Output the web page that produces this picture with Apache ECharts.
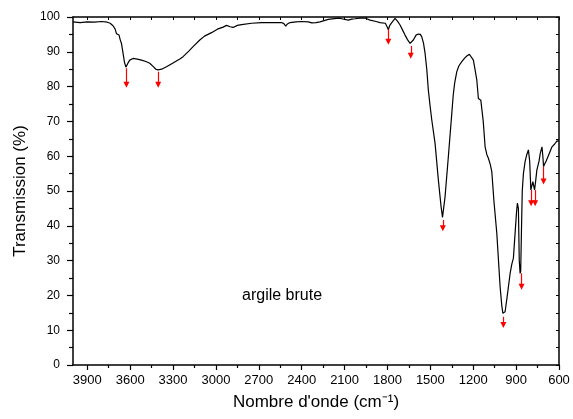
<!DOCTYPE html>
<html>
<head>
<meta charset="utf-8">
<script src="https://cdn.jsdelivr.net/npm/echarts/dist/echarts.min.js"></script>
<style>
    html, body { margin: 0; padding: 0; background: #fff; }
    #main { width: 573px; height: 419px; }
</style>
</head>
<body>
<div id="main"></div>
<script>
// spectre IR (nombre d'onde, transmission %)
var waveNumbers = [4000, 3950, 3900, 3850, 3800, 3760, 3740, 3720, 3705, 3696, 3688, 3678, 3670, 3661, 3650, 3640, 3630, 3625, 3615, 3603,
    3590, 3580, 3550, 3521, 3490, 3463, 3440, 3420, 3405, 3380, 3346, 3300, 3250, 3230, 3190, 3160, 3113, 3080, 3031, 2990,
    2950, 2926, 2900, 2880, 2850, 2821, 2750, 2681, 2600, 2541, 2525, 2512, 2500, 2482, 2440, 2401, 2354, 2330, 2319, 2300,
    2272, 2214, 2144, 2120, 2109, 2074, 2050, 2027, 1990, 1957, 1922, 1880, 1852, 1815, 1800, 1794, 1785, 1770, 1747, 1730,
    1712, 1695, 1677, 1660, 1642, 1630, 1619, 1600, 1584, 1570, 1560, 1548, 1537, 1525, 1514, 1502, 1490, 1467, 1444, 1425,
    1415, 1410, 1397, 1374, 1350, 1340, 1330, 1315, 1300, 1280, 1260, 1245, 1227, 1215, 1199, 1187, 1175, 1164, 1155, 1147,
    1130, 1117, 1105, 1094, 1080, 1070, 1055, 1035, 1012, 1000, 993, 985, 977, 960, 942, 930, 919, 907, 897, 891,
    884, 878, 872, 868, 862, 857, 849, 837, 825, 814, 805, 797, 790, 783, 771, 763, 755, 740, 731, 719,
    713, 708, 700, 692, 673, 649, 630, 614, 605, 600];
var transmission = [98.6, 98.4, 98.6, 98.5, 98.7, 98.5, 98.2, 97.5, 96.5, 95.2, 95.0, 94.8, 93.5, 92.4, 89.6, 87.0, 85.6, 85.5, 86.8, 87.6,
    88.0, 88.1, 87.9, 87.6, 87.2, 86.7, 85.8, 85.0, 84.8, 85.0, 85.7, 86.8, 88.0, 88.6, 90.2, 91.5, 93.4, 94.5, 95.5, 96.5,
    97.1, 97.6, 97.2, 97.0, 97.6, 97.8, 98.2, 98.4, 98.4, 98.4, 98.1, 97.4, 98.0, 98.4, 98.6, 98.7, 98.6, 98.3, 98.2, 98.4,
    98.6, 99.3, 99.7, 99.5, 99.3, 99.1, 99.4, 99.5, 99.7, 99.7, 99.1, 98.7, 98.4, 98.2, 97.0, 96.3, 97.5, 98.4, 99.6, 98.8,
    97.7, 96.3, 94.8, 93.5, 92.4, 92.8, 93.4, 94.8, 95.1, 95.0, 94.3, 92.5, 89.6, 85.0, 79.0, 74.5, 70.4, 63.7, 53.2, 45.5,
    42.4, 42.8, 48.4, 59.9, 72.3, 77.5, 81.0, 84.3, 86.0, 87.2, 88.2, 88.8, 89.3, 88.8, 87.6, 84.8, 81.9, 76.6, 76.3, 76.1,
    70.0, 62.7, 60.5, 59.4, 57.5, 55.5, 47.0, 37.8, 22.5, 17.0, 14.9, 14.5, 15.3, 20.5, 26.3, 29.0, 30.7, 31.1, 44.0, 46.5,
    45.0, 30.0, 26.3, 27.0, 40.0, 50.0, 55.0, 58.5, 60.5, 61.8, 58.5, 50.3, 51.5, 52.7, 50.3, 53.0, 56.0, 58.5, 60.8, 62.7,
    60.0, 57.0, 57.8, 58.4, 60.3, 62.7, 63.5, 64.4, 64.6, 64.3];

// flèches rouges (position, début, pointe)
var arrowX = [3626, 3404, 1794, 1637, 1413, 989, 862, 795, 767, 708];
var arrowTop = [85.3, 84.3, 96.5, 91.7, 41.7, 13.9, 26.4, 50.3, 50.3, 57.0];
var arrowTip = [80.5, 80.5, 92.9, 88.9, 39.3, 11.5, 22.5, 46.5, 46.5, 52.7];

var xMajorTicks = [3900, 3600, 3300, 3000, 2700, 2400, 2100, 1800, 1500, 1200, 900, 600];
var xMinorTicks = [3750, 3450, 3150, 2850, 2550, 2250, 1950, 1650, 1350, 1050, 750];
var xTopTicks = xMajorTicks.concat(xMinorTicks);

var chart = echarts.init(document.getElementById('main'));

var spectrum = waveNumbers.map(function (w, i) {
    return [w, transmission[i]];
});
var arrows = arrowX.map(function (x, i) {
    return { coords: [[x, arrowTop[i]], [x, arrowTip[i]]] };
});

var font = 'Liberation Sans';
var axisColor = '#000';

chart.setOption({
    animation: false,
    backgroundColor: '#fff',
    grid: { left: 73, right: 14, top: 17, bottom: 54 },
    xAxis: [{
        type: 'value',
        min: 600,
        max: 4000,
        inverse: true,
        position: 'bottom',
        name: 'Nombre d\'onde (cm⁻¹)',
        nameLocation: 'middle',
        nameGap: 29,
        nameTextStyle: { fontFamily: font, fontSize: 17, color: '#000' },
        axisLine: { lineStyle: { color: axisColor, width: 1.5 } },
        axisTick: { customValues: xMajorTicks, length: 5, lineStyle: { color: axisColor, width: 1.2 } },
        axisLabel: {
            customValues: xMajorTicks, margin: 9, fontFamily: font, fontSize: 13, color: '#000',
            formatter: function (v) { return String(v); }
        },
        splitLine: { show: false }
    }, {
        type: 'value',
        min: 600,
        max: 4000,
        inverse: true,
        position: 'bottom',
        axisLine: { show: false },
        axisTick: { customValues: xMinorTicks, length: 3, lineStyle: { color: axisColor, width: 1.2 } },
        axisLabel: { show: false },
        splitLine: { show: false }
    }, {
        type: 'value',
        min: 600,
        max: 4000,
        inverse: true,
        position: 'top',
        axisLine: { lineStyle: { color: axisColor, width: 1.5 } },
        axisTick: { customValues: xTopTicks, inside: true, length: 3, lineStyle: { color: axisColor, width: 1 } },
        axisLabel: { show: false },
        splitLine: { show: false }
    }],
    yAxis: [{
        type: 'value',
        min: 0,
        max: 100,
        interval: 10,
        position: 'left',
        name: 'Transmission (%)',
        nameLocation: 'middle',
        nameGap: 44,
        nameTextStyle: { fontFamily: font, fontSize: 17, color: '#000' },
        axisLine: { lineStyle: { color: axisColor, width: 1.5 } },
        axisTick: { length: 6, lineStyle: { color: axisColor, width: 1.2 } },
        minorTick: { show: true, splitNumber: 2, length: 4, lineStyle: { color: axisColor, width: 1.2 } },
        axisLabel: { margin: 13, fontFamily: font, fontSize: 12, color: '#000' },
        splitLine: { show: false }
    }, {
        type: 'value',
        min: 0,
        max: 100,
        interval: 5,
        position: 'right',
        axisLine: { lineStyle: { color: axisColor, width: 1.5 } },
        axisTick: { inside: true, length: 3, lineStyle: { color: axisColor, width: 1 } },
        axisLabel: { show: false },
        splitLine: { show: false }
    }],
    graphic: [{
        type: 'text',
        left: 242,
        top: 288,
        style: { text: 'argile brute', font: '16px "Liberation Sans"', fill: '#000' }
    }],
    series: [{
        type: 'line',
        data: spectrum,
        xAxisIndex: 0,
        yAxisIndex: 0,
        showSymbol: false,
        lineStyle: { color: '#000', width: 1.2 },
        z: 3
    }, {
        type: 'lines',
        coordinateSystem: 'cartesian2d',
        xAxisIndex: 0,
        yAxisIndex: 0,
        data: arrows,
        symbol: ['none', 'triangle'],
        symbolSize: 6,
        lineStyle: { color: '#ff0000', width: 1.2, opacity: 1 },
        z: 4
    }]
});
</script>
</body>
</html>
